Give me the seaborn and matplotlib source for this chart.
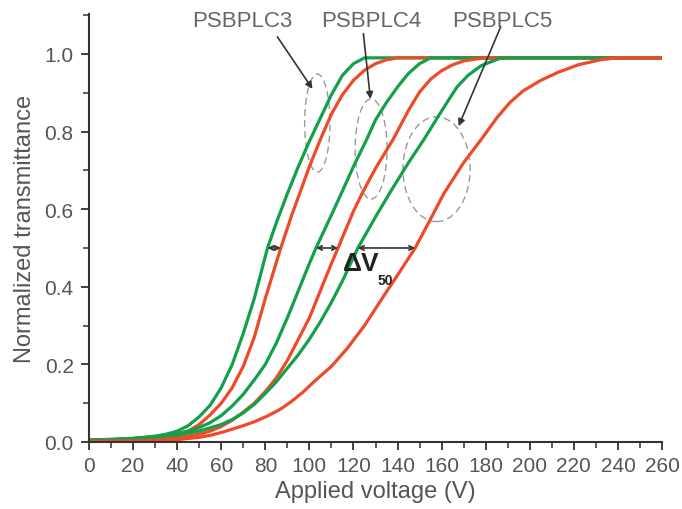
import matplotlib
matplotlib.use("Agg")
import matplotlib.pyplot as plt
from matplotlib.patches import Ellipse
from matplotlib.ticker import MultipleLocator, FormatStrFormatter
import seaborn as sns

# curves: applied voltage (V) -> normalized transmittance
v_g3 = [0, 10, 20, 30, 35, 40, 45, 50, 55, 60, 65, 70, 75, 81, 85, 90, 95, 100, 105, 110, 115, 120, 125, 140, 160, 180, 200, 220, 240, 260]
t_g3 = [0.005, 0.006, 0.009, 0.015, 0.02, 0.028, 0.042, 0.065, 0.095, 0.14, 0.2, 0.28, 0.37, 0.5, 0.565, 0.64, 0.71, 0.775, 0.835, 0.895, 0.945, 0.975, 0.99, 0.99, 0.99, 0.99, 0.99, 0.99, 0.99, 0.99]

v_r3 = [0, 10, 20, 30, 40, 45, 50, 55, 60, 65, 70, 75, 80, 87, 92, 96, 100, 105, 110, 115, 120, 125, 130, 135, 140, 160, 180, 200, 220, 240, 260]
t_r3 = [0.003, 0.004, 0.005, 0.008, 0.018, 0.028, 0.045, 0.07, 0.1, 0.14, 0.195, 0.27, 0.37, 0.5, 0.585, 0.647, 0.71, 0.78, 0.845, 0.895, 0.932, 0.958, 0.975, 0.985, 0.99, 0.99, 0.99, 0.99, 0.99, 0.99, 0.99]

v_g4 = [0, 10, 20, 30, 40, 45, 50, 55, 60, 65, 70, 75, 80, 85, 90, 95, 100, 103, 110, 115, 120, 126, 130, 135, 140, 145, 150, 155, 170, 190, 210, 230, 260]
t_g4 = [0.005, 0.006, 0.009, 0.014, 0.022, 0.028, 0.037, 0.05, 0.068, 0.093, 0.123, 0.16, 0.2, 0.255, 0.32, 0.39, 0.46, 0.5, 0.585, 0.647, 0.71, 0.78, 0.83, 0.875, 0.915, 0.95, 0.975, 0.99, 0.99, 0.99, 0.99, 0.99, 0.99]

v_r4 = [0, 20, 30, 40, 50, 55, 60, 65, 70, 75, 80, 85, 90, 95, 100, 105, 110, 113, 120, 124.5, 130, 138, 145, 150, 155, 160, 165, 170, 179, 190, 210, 230, 260]
t_r4 = [0.003, 0.005, 0.007, 0.011, 0.02, 0.028, 0.04, 0.056, 0.077, 0.1, 0.13, 0.165, 0.21, 0.265, 0.32, 0.39, 0.46, 0.5, 0.595, 0.647, 0.705, 0.78, 0.855, 0.902, 0.935, 0.957, 0.972, 0.982, 0.99, 0.99, 0.99, 0.99, 0.99]

v_g5 = [0, 20, 30, 40, 50, 60, 65, 70, 75, 80, 85, 90, 95, 100, 105, 110, 115, 122, 130, 137, 145, 152, 158, 163, 167, 172, 178, 187, 200, 220, 240, 260]
t_g5 = [0.005, 0.009, 0.013, 0.018, 0.028, 0.045, 0.058, 0.075, 0.097, 0.125, 0.155, 0.19, 0.225, 0.265, 0.31, 0.36, 0.415, 0.5, 0.58, 0.647, 0.72, 0.78, 0.835, 0.88, 0.915, 0.945, 0.97, 0.99, 0.99, 0.99, 0.99, 0.99]

v_r5 = [0, 20, 30, 40, 50, 55, 61, 70, 75, 81, 87, 92, 97, 102, 110, 117, 125, 133, 140, 148, 155, 161, 170, 178, 185, 191, 197, 205, 213, 222, 232, 240, 260]
t_r5 = [0.002, 0.003, 0.004, 0.006, 0.012, 0.017, 0.026, 0.042, 0.052, 0.067, 0.085, 0.105, 0.128, 0.155, 0.195, 0.24, 0.3, 0.37, 0.43, 0.5, 0.575, 0.64, 0.72, 0.78, 0.835, 0.875, 0.905, 0.932, 0.953, 0.972, 0.985, 0.99, 0.99]

samples = ["PSBPLC3", "PSBPLC4", "PSBPLC5"]
v50_green = [81, 103, 122]
v50_red = [87, 113, 148]

GREEN = "#12a04a"
RED = "#ee4a2a"
GREY = "#555555"

sns.set_style("ticks")
plt.rcParams["font.family"] = ["Liberation Sans", "DejaVu Sans"]

fig = plt.figure(figsize=(6.82, 5.10), dpi=100)
ax = fig.add_axes([0.1305, 0.1314, 0.8402, 0.8392])

curves = [(v_g3, t_g3, GREEN), (v_r3, t_r3, RED), (v_g4, t_g4, GREEN),
          (v_r4, t_r4, RED), (v_g5, t_g5, GREEN), (v_r5, t_r5, RED)]
for v, t, c in curves:
    sns.lineplot(x=v, y=t, color=c, linewidth=2.3, ax=ax)

ax.set_xlim(0, 260)
ax.set_ylim(0, 1.103)
ax.xaxis.set_major_locator(MultipleLocator(20))
ax.xaxis.set_minor_locator(MultipleLocator(10))
ax.yaxis.set_major_locator(MultipleLocator(0.2))
ax.yaxis.set_minor_locator(MultipleLocator(0.1))
ax.yaxis.set_major_formatter(FormatStrFormatter("%.1f"))
ax.tick_params(which="major", length=6, width=1.3, color="#333333", labelsize=15, labelcolor=GREY, pad=4)
ax.tick_params(which="minor", length=4, width=1.1, color="#333333")
ax.tick_params(axis="y", pad=5)
for s in ["left", "bottom"]:
    ax.spines[s].set_color("#333333")
    ax.spines[s].set_linewidth(1.5)
sns.despine(ax=ax)

ax.set_xlabel("Applied voltage (V)", fontsize=17, color=GREY, labelpad=4)
ax.set_ylabel("Normalized transmittance", fontsize=17, color=GREY, labelpad=6)

# delta V50 arrows at half transmittance
for g, r in zip(v50_green, v50_red):
    ax.annotate("", xy=(r, 0.5), xytext=(g, 0.5),
                arrowprops=dict(arrowstyle="<->", color="#333333", lw=1.2,
                                shrinkA=0, shrinkB=0, mutation_scale=8))
ax.text(123.6, 0.461, "\u0394V", fontsize=19, fontweight="bold", color="#222222",
        ha="center", va="center")
ax.text(134.5, 0.418, "50", fontsize=10, fontweight="bold", color="#222222",
        ha="center", va="center")

# dashed ellipses and labels
ellipses = [(103.6, 0.822, 11.5, 0.253), (128.0, 0.755, 14.5, 0.258), (157.7, 0.703, 30.5, 0.27)]
for cx, cy, w, h in ellipses:
    ax.add_patch(Ellipse((cx, cy), w, h, fill=False, ls=(0, (5, 3)),
                         ec="#999999", lw=1.0))

label_pos = [(69.5, 1.085), (128.0, 1.085), (187.3, 1.085)]
arrow_tails = [(85.5, 1.044), (124.5, 1.052), (186.8, 1.07)]
arrow_heads = [(101.4, 0.91), (127.7, 0.884), (167.7, 0.814)]
for name, (lx, ly), tail, head in zip(samples, label_pos, arrow_tails, arrow_heads):
    ax.text(lx, ly, name, fontsize=16, color="#666666", ha="center", va="center", clip_on=False)
    ax.annotate("", xy=head, xytext=tail,
                arrowprops=dict(arrowstyle="-|>", color="#333333", lw=1.2,
                                shrinkA=0, shrinkB=0, mutation_scale=10))

fig.savefig("out.png", dpi=100, facecolor="white")
